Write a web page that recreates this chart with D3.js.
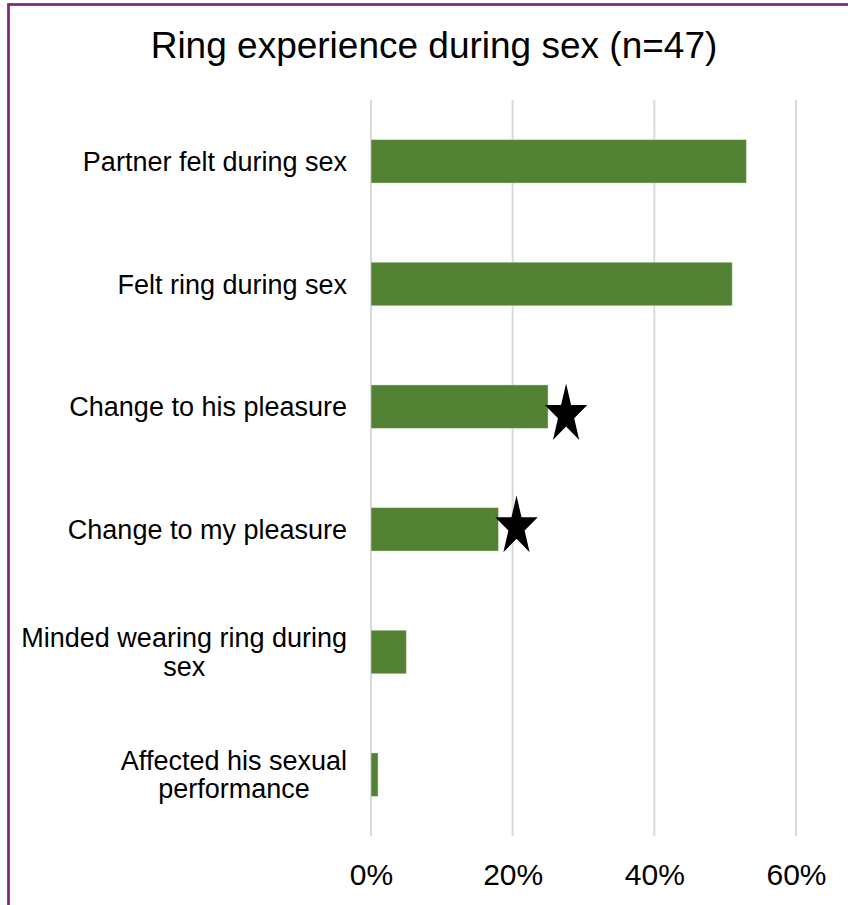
<!DOCTYPE html>
<html>
<head>
<meta charset="utf-8">
<style>
  html, body { margin: 0; padding: 0; background: #fff; }
  svg { display: block; }
</style>
</head>
<body>
<div id="container"></div>
<script src="https://cdn.jsdelivr.net/npm/d3@7"></script>
<script>

// chart values
const categories = [
  "Partner felt during sex",
  "Felt ring during sex",
  "Change to his pleasure",
  "Change to my pleasure",
  "Minded wearing ring during\nsex",
  "Affected his sexual\nperformance"
];
const values = [0.53, 0.51, 0.25, 0.18, 0.05, 0.01];
const starred = [false, false, true, true, false, false];
const tickValues = [0, 0.2, 0.4, 0.6];
const title = "Ring experience during sex (n=47)";

// dimensions
const width = 848;
const height = 905;
const plotLeft = 371;
const plotRight = 796;
const plotTop = 100;
const plotBottom = 836;

const font = "'Liberation Sans', Arial, sans-serif";
const barColor = "#548235";
const gridColor = "#d9d9d9";

const svg = d3.create("svg")
    .attr("width", width)
    .attr("height", height);

// outer frame (runs off the right and bottom edges)
svg.append("rect")
    .attr("x", 8.5)
    .attr("y", 4.5)
    .attr("width", 1000)
    .attr("height", 1000)
    .attr("fill", "none")
    .attr("stroke", "#80267f")
    .attr("stroke-width", 2.75);

const x = d3.scaleLinear()
    .domain([0, 0.6])
    .range([plotLeft, plotRight]);

const y = d3.scaleBand()
    .domain(categories)
    .range([plotTop, plotBottom])
    .paddingInner(0.645)
    .paddingOuter(0.3225);

// title
svg.append("text")
    .attr("x", 434)
    .attr("y", 58)
    .attr("text-anchor", "middle")
    .attr("font-family", font)
    .attr("font-size", 37)
    .attr("fill", "#000")
    .text(title);

// vertical gridlines
svg.append("g")
  .selectAll("line")
  .data(tickValues)
  .join("line")
    .attr("x1", d => x(d))
    .attr("x2", d => x(d))
    .attr("y1", plotTop)
    .attr("y2", plotBottom)
    .attr("stroke", gridColor)
    .attr("stroke-width", 2);

// x axis tick labels
const xAxis = svg.append("g")
    .attr("transform", `translate(0,${plotBottom})`)
    .call(d3.axisBottom(x).tickValues(tickValues).tickFormat(d3.format(".0%")).tickSize(0).tickPadding(28));
xAxis.select(".domain").remove();
xAxis.selectAll("text")
    .attr("font-family", font)
    .attr("font-size", 30)
    .attr("fill", "#000");

// bars
svg.append("g")
  .selectAll("rect")
  .data(values)
  .join("rect")
    .attr("x", x(0))
    .attr("y", (d, i) => y(categories[i]))
    .attr("width", d => x(d) - x(0))
    .attr("height", y.bandwidth())
    .attr("fill", barColor)
    .attr("stroke", "#fff")
    .attr("stroke-opacity", 0.4)
    .attr("stroke-width", 1);

// category labels (multi-line ones are centred within a right-aligned block)
const labelRight = 347;
const lineHeight = 28.3;
const labels = svg.append("g")
    .attr("font-family", font)
    .attr("font-size", 27)
    .attr("fill", "#000");

categories.forEach((c, i) => {
    const lines = c.split("\n");
    const cy = y(c) + y.bandwidth() / 2;
    const t = labels.append("text").attr("text-anchor", "end");
    const spans = lines.map((ln, k) => t.append("tspan")
        .attr("x", labelRight)
        .attr("y", cy + 9.5 + (k - (lines.length - 1) / 2) * lineHeight)
        .text(ln));
    if (lines.length > 1) {
        // measure after attaching
        t.attr("data-multi", 1);
    }
});

// significance stars
const star = d3.symbol().type(d3.symbolStar).size(560);
const starOffsets = [0, 0, 8, -2.5, 0, 0];
svg.append("g")
  .selectAll("path")
  .data(values.map((v, i) => ({v, i})).filter(d => starred[d.i]))
  .join("path")
    .attr("d", star)
    .attr("fill", "#000")
    .attr("transform", d => `translate(${x(d.v) + 18},${y(categories[d.i]) + y.bandwidth() / 2 + starOffsets[d.i]}) scale(1,1.4)`);

container.append(svg.node());

// centre the lines of multi-line labels on the widest line
labels.selectAll("text[data-multi]").each(function() {
    const spans = d3.select(this).selectAll("tspan").nodes();
    const widths = spans.map(s => s.getComputedTextLength());
    const maxW = d3.max(widths);
    const mid = labelRight - maxW / 2;
    d3.select(this).attr("text-anchor", "middle");
    spans.forEach(s => d3.select(s).attr("x", mid));
});
</script>
</body>
</html>
